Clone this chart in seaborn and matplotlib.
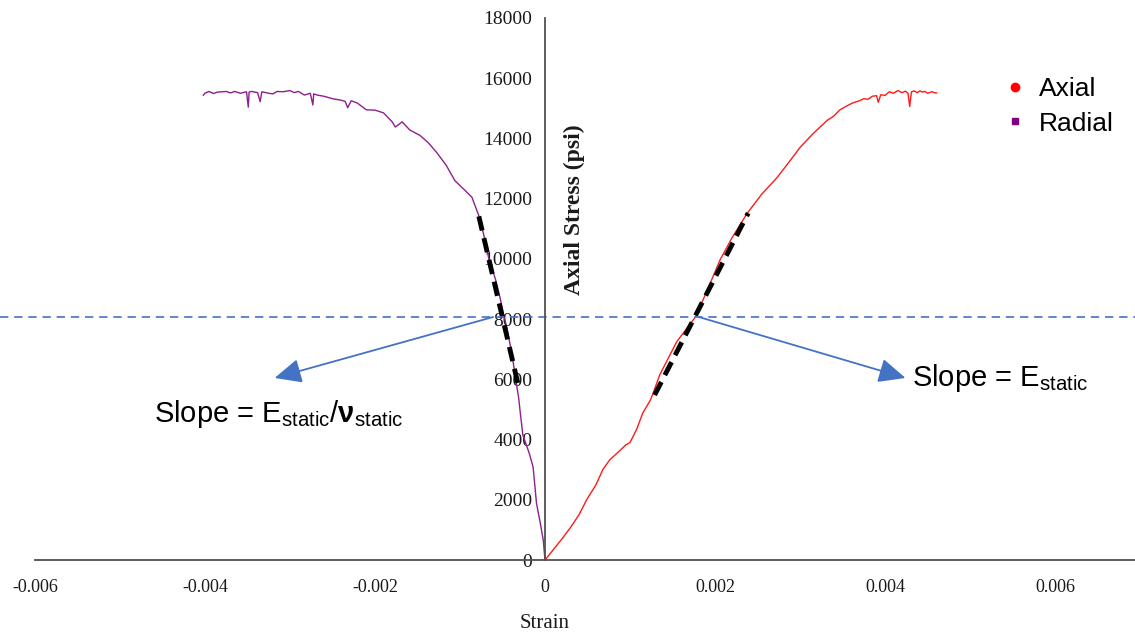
import numpy as np
import pandas as pd
import matplotlib
matplotlib.use("Agg")
import matplotlib.pyplot as plt
from matplotlib.lines import Line2D
import seaborn as sns

# Stress-strain data (strain, psi)
axial_strain = [0, 0.00010, 0.00020, 0.00030, 0.00040, 0.00049, 0.00060, 0.00068, 0.00076,
                0.00086, 0.00095, 0.00100, 0.00108, 0.00115, 0.00124, 0.00128, 0.00135,
                0.00145, 0.00155, 0.00167, 0.00177, 0.00190, 0.00206, 0.00220, 0.00238,
                0.00255, 0.00273, 0.00288, 0.00300, 0.00315, 0.00332, 0.00340, 0.00347,
                0.00355, 0.00362, 0.00370, 0.00375, 0.00380, 0.00385, 0.00390, 0.00392,
                0.00395, 0.00400, 0.00405, 0.00410, 0.00415, 0.00420, 0.00424, 0.00427,
                0.00429, 0.00431, 0.00434, 0.00438, 0.00441, 0.00444, 0.00447, 0.00450,
                0.00455, 0.00458, 0.00461]
axial_stress = [0, 350, 700, 1080, 1500, 2000, 2500, 3000, 3320,
                3580, 3820, 3900, 4350, 4880, 5310, 5600, 6150,
                6700, 7250, 7700, 8070, 8900, 9970, 10700, 11520,
                12150, 12700, 13250, 13700, 14150, 14600, 14750, 14950,
                15080, 15180, 15250, 15320, 15300, 15400, 15420, 15200,
                15450, 15430, 15550, 15500, 15590, 15520, 15570, 15500,
                15060, 15540, 15580, 15520, 15580, 15540, 15560, 15500,
                15550, 15520, 15510]

radial_strain = [0, -0.00002, -0.00006, -0.00010, -0.00012, -0.00014, -0.00018, -0.00021,
                 -0.00026, -0.00029, -0.00031, -0.00033, -0.00037, -0.00041, -0.00045,
                 -0.00049, -0.00053, -0.00058, -0.00066, -0.00072, -0.00078, -0.00086,
                 -0.00095, -0.00106, -0.00116, -0.00127, -0.00137, -0.00147, -0.00159,
                 -0.00168, -0.00174, -0.00176, -0.00180, -0.00190, -0.00200, -0.00210,
                 -0.00221, -0.00228, -0.00232, -0.00235, -0.00240, -0.00250, -0.00260,
                 -0.00268, -0.00272, -0.00273, -0.00276, -0.00283, -0.00290, -0.00295,
                 -0.00300, -0.00308, -0.00315, -0.00320, -0.00325, -0.00333, -0.00335,
                 -0.00338, -0.00345, -0.00348, -0.00349, -0.00351, -0.00358, -0.00365,
                 -0.00370, -0.00375, -0.00385, -0.00390, -0.00395, -0.00400, -0.00402]
radial_stress = [0, 660, 1300, 1890, 2500, 3090, 3500, 3750,
                 4150, 4880, 5400, 5750, 6500, 7150, 7740,
                 8200, 8730, 9300, 10000, 10800, 11450, 12050,
                 12300, 12600, 13100, 13520, 13850, 14100, 14280,
                 14550, 14420, 14380, 14560, 14850, 14940, 14950,
                 15180, 15250, 15020, 15230, 15270, 15320, 15400,
                 15440, 15480, 15110, 15500, 15440, 15560, 15520,
                 15590, 15550, 15560, 15480, 15500, 15550, 15220,
                 15520, 15560, 15540, 15040, 15550, 15500, 15560,
                 15510, 15560, 15540, 15490, 15560, 15500, 15430]

# tangent (slope) lines
axial_tan_x = [0.00129, 0.00239]
axial_tan_y = [5480, 11520]
radial_tan_x = [-0.00032, -0.00079]
radial_tan_y = [5880, 11560]

ref_stress = 8070
arrow_right = [(0.00181, 8070), (0.00424, 6045)]
arrow_left = [(-0.00061, 8070), (-0.00318, 6045)]

y_ticks = list(range(0, 18001, 2000))
x_ticks = [-0.006, -0.004, -0.002, 0, 0.002, 0.004, 0.006]
x_labels = ["-0.006", "-0.004", "-0.002", "0", "0.002", "0.004", "0.006"]

df = pd.concat([
    pd.DataFrame({"Strain": axial_strain, "Stress": axial_stress, "Series": "Axial"}),
    pd.DataFrame({"Strain": radial_strain, "Stress": radial_stress, "Series": "Radial"}),
])

sns.set_style("white")
plt.rcParams["font.family"] = ["Liberation Serif", "DejaVu Serif"]
plt.rcParams["text.color"] = "black"
plt.rcParams["axes.labelcolor"] = "#1a1a1a"
plt.rcParams["mathtext.fontset"] = "custom"
plt.rcParams["mathtext.rm"] = "Liberation Sans"
plt.rcParams["mathtext.it"] = "Liberation Sans:italic"
plt.rcParams["mathtext.bf"] = "Liberation Sans:bold"

fig = plt.figure(figsize=(11.35, 6.33), dpi=100)
ax = fig.add_axes([0.0, 0.1153, 1.0, 0.8563])

palette = {"Axial": "#FF1A1A", "Radial": "#8E1F8E"}
sns.lineplot(data=df, x="Strain", y="Stress", hue="Series", units="Series",
             estimator=None, sort=False, palette=palette, linewidth=1.0,
             legend=False, ax=ax)

# tangent dashed lines
ax.plot(axial_tan_x, axial_tan_y, color="black", lw=3.5, dashes=(3.0, 1.6))
ax.plot(radial_tan_x, radial_tan_y, color="black", lw=3.5, dashes=(3.0, 1.6))

# reference stress line
ax.axhline(ref_stress, color="#4472C4", lw=1.2, dashes=(5, 3.5))

blue = "#4472C4"
for start, end in [arrow_right, arrow_left]:
    ax.annotate("", xy=end, xytext=start,
                arrowprops=dict(arrowstyle="-|>,head_length=1.1,head_width=0.5",
                                color=blue, lw=1.3, mutation_scale=15,
                                shrinkA=0, shrinkB=0))

sans = ["Liberation Sans", "DejaVu Sans"]
ax.text(0.00432, 6045, r"Slope = E$_{\mathrm{static}}$", fontsize=21,
        family=sans, ha="left", va="center", color="black")
ax.text(-0.00460, 4850, r"Slope = E$_{\mathrm{static}}$/$\mathbf{\nu}_{\mathrm{static}}$",
        fontsize=21, family=sans, ha="left", va="center", color="black")

ax.set_xlim(-0.00641, 0.00694)
ax.set_ylim(0, 18000)

for s in ["top", "right"]:
    ax.spines[s].set_visible(False)
ax.spines["left"].set_position(("data", 0))
ax.spines["bottom"].set_bounds(-0.006, 0.00694)
for s in ["left", "bottom"]:
    ax.spines[s].set_color("#505050")
    ax.spines[s].set_linewidth(1.3)

ax.set_yticks(y_ticks)
ax.set_yticklabels([str(v) for v in y_ticks])
ax.set_xticks(x_ticks)
ax.set_xticklabels(x_labels)
ax.tick_params(axis="y", direction="out", length=4, width=1.2, color="#505050",
               labelsize=14, pad=5, labelcolor="#1a1a1a")
ax.tick_params(axis="x", direction="out", length=5, width=1.2, color="#505050",
               labelsize=13, pad=9, labelcolor="#1a1a1a")

ax.set_xlabel("Strain", fontsize=15)
ax.xaxis.set_label_coords(0.48, -0.100)
ax.set_ylabel("Axial Stress (psi)", fontsize=17, fontweight="bold")
ax.yaxis.set_label_coords(0.5154, 0.646)

handles = [
    Line2D([], [], ls="none", marker="o", color="#FF0000", markersize=6, label="Axial"),
    Line2D([], [], ls="none", marker="s", color="#800080", markersize=5, label="Radial"),
]
ax.legend(handles=handles, loc="upper left", bbox_to_anchor=(0.864, 0.935),
          frameon=False, prop={"family": "Liberation Sans", "size": 19},
          handlelength=0.8, handletextpad=0.5, labelspacing=0.4, labelcolor="black")

plt.savefig("out.png", dpi=100)
